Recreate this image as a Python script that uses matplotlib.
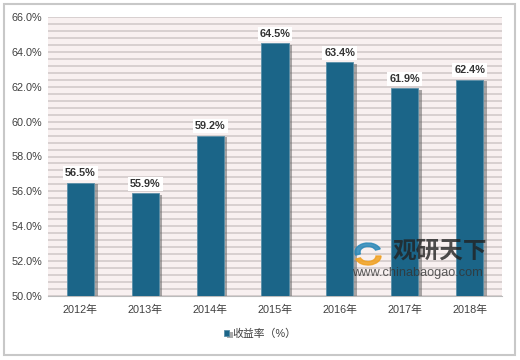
import numpy as np
import matplotlib
matplotlib.use('Agg')
import matplotlib.pyplot as plt
import matplotlib.patheffects as pe
from matplotlib.patches import Rectangle, Wedge

plt.rcParams['font.family'] = ['Liberation Sans', 'Noto Sans CJK SC', 'DejaVu Sans']

# 数据
years = ['2012年', '2013年', '2014年', '2015年', '2016年', '2017年', '2018年']
values = [56.5, 55.9, 59.2, 64.5, 63.4, 61.9, 62.4]
series_name = '收益率（%）'

bar_color = '#1b6588'
text_color = '#404040'

fig = plt.figure(figsize=(5.2, 3.6), dpi=100)
fig.patch.set_facecolor('white')
# 外框
fig.patches.append(Rectangle((4 / 520, 5 / 360), 511 / 520, 351 / 360, transform=fig.transFigure,
                             fill=False, edgecolor='#c8c8c8', linewidth=1.5))

ax = fig.add_axes([48 / 520, 64 / 360, 454 / 520, 279 / 360])
ax.set_facecolor('#f8f0f0')

x = np.arange(len(years))
bars = ax.bar(x, values, width=0.42, color=bar_color, edgecolor='#5a8fa8', linewidth=0.6,
              zorder=3, label=series_name)
for b in bars:
    b.set_path_effects([pe.SimplePatchShadow(offset=(2.5, -1), shadow_rgbFace='#666666', alpha=0.55),
                        pe.Normal()])

# 数据标签
for xi, v in zip(x, values):
    ax.text(xi, v + 0.25, f'{v:.1f}%', ha='center', va='bottom', fontsize=7.8, fontweight='bold',
            color='#333333', zorder=5,
            bbox=dict(facecolor='white', edgecolor='none', pad=1.5))

ax.set_xlim(-0.5, len(years) - 0.5)
ax.set_ylim(50, 66)
ax.set_yticks(np.arange(50, 66.1, 2))
ax.set_yticklabels([f'{t:.1f}%' for t in np.arange(50, 66.1, 2)])
ax.set_yticks(np.arange(50, 66.01, 0.4), minor=True)
ax.set_xticks(x)
ax.set_xticklabels(years)

ax.grid(True, which='both', axis='y', color='#d2caca', linewidth=1.2, zorder=0)
ax.set_axisbelow(True)
ax.tick_params(axis='both', which='both', length=0, labelsize=7.8, colors=text_color)
ax.tick_params(axis='x', pad=6)
ax.tick_params(axis='y', pad=4)
for s in ['top', 'right', 'left']:
    ax.spines[s].set_visible(False)
ax.spines['bottom'].set_color('#bbbbbb')

# 图例
leg = fig.legend(handles=[bars], labels=[series_name], loc='center', bbox_to_anchor=(0.5, 26 / 360),
                 frameon=False, fontsize=7.8, handlelength=0.5, handleheight=0.5, handletextpad=0.3)
for t in leg.get_texts():
    t.set_color(text_color)

# 水印
fig.text(393 / 520, 1 - 251 / 360, '观研天下', ha='left', va='center', fontsize=17, fontweight='bold',
         color='#222222', alpha=0.8, family=['Noto Sans CJK SC'])
fig.text(417 / 520, 1 - 273 / 360, 'www.chinabaogao.com', ha='center', va='center', fontsize=9.2,
         color='#333333', alpha=0.8)
# 标志
cx, cy = 368, 252
fig.patches.append(Wedge((cx / 520, 1 - cy / 360), 13 / 520, 20, 200, width=5 / 520,
                         transform=fig.transFigure, color='#2a88b8', alpha=0.85))
fig.patches.append(Wedge((cx / 520, 1 - (cy + 4) / 360), 13 / 520, 200, 360, width=5 / 520,
                         transform=fig.transFigure, color='#f0a020', alpha=0.85))

fig.savefig('out.png', dpi=100, facecolor='white')
